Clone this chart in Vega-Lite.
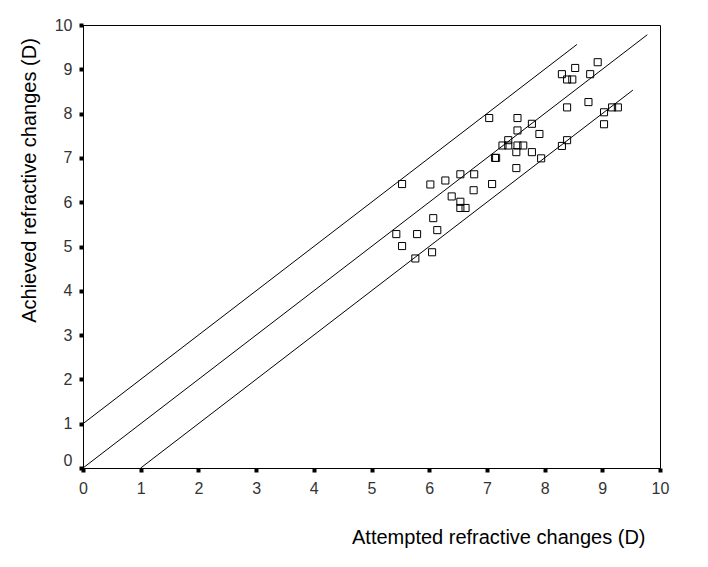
{
  "$schema": "https://vega.github.io/schema/vega-lite/v6.json",
  "autosize": {"type": "none"},
  "width": 577,
  "height": 443,
  "padding": {"left": 83, "top": 25, "right": 48, "bottom": 99},
  "background": "white",
  "config": {
    "view": {"stroke": "black", "strokeWidth": 1},
    "font": "Liberation Sans",
    "axis": {
      "grid": false,
      "domainColor": "black",
      "domainWidth": 1,
      "tickColor": "black",
      "tickSize": 4,
      "tickWidth": 4,
      "labelFlush": false,
      "labelColor": "#333",
      "labelFont": "Liberation Sans",
      "labelFontSize": 16,
      "titleFont": "Liberation Sans",
      "titleFontWeight": "normal",
      "titleColor": "black"
    }
  },
  "datasets": {
    "points": [
      {"attempted": 5.53, "achieved": 6.41},
      {"attempted": 6.02, "achieved": 6.40},
      {"attempted": 6.28, "achieved": 6.49},
      {"attempted": 6.54, "achieved": 6.63},
      {"attempted": 6.78, "achieved": 6.63},
      {"attempted": 6.77, "achieved": 6.27},
      {"attempted": 6.39, "achieved": 6.13},
      {"attempted": 6.54, "achieved": 6.01},
      {"attempted": 6.54, "achieved": 5.87},
      {"attempted": 6.63, "achieved": 5.87},
      {"attempted": 6.07, "achieved": 5.64},
      {"attempted": 6.14, "achieved": 5.37},
      {"attempted": 5.43, "achieved": 5.28},
      {"attempted": 5.79, "achieved": 5.28},
      {"attempted": 5.53, "achieved": 5.01},
      {"attempted": 6.05, "achieved": 4.87},
      {"attempted": 5.76, "achieved": 4.73},
      {"attempted": 7.04, "achieved": 7.90},
      {"attempted": 7.53, "achieved": 7.90},
      {"attempted": 7.53, "achieved": 7.62},
      {"attempted": 7.78, "achieved": 7.77},
      {"attempted": 7.91, "achieved": 7.54},
      {"attempted": 7.37, "achieved": 7.40},
      {"attempted": 7.27, "achieved": 7.28},
      {"attempted": 7.37, "achieved": 7.28},
      {"attempted": 7.53, "achieved": 7.28},
      {"attempted": 7.63, "achieved": 7.28},
      {"attempted": 7.51, "achieved": 7.13},
      {"attempted": 7.78, "achieved": 7.13},
      {"attempted": 7.14, "achieved": 7.00},
      {"attempted": 7.16, "achieved": 7.00},
      {"attempted": 7.94, "achieved": 6.99},
      {"attempted": 7.51, "achieved": 6.77},
      {"attempted": 7.09, "achieved": 6.41},
      {"attempted": 8.92, "achieved": 9.16},
      {"attempted": 8.53, "achieved": 9.03},
      {"attempted": 8.30, "achieved": 8.89},
      {"attempted": 8.39, "achieved": 8.77},
      {"attempted": 8.48, "achieved": 8.77},
      {"attempted": 8.79, "achieved": 8.89},
      {"attempted": 8.39, "achieved": 8.14},
      {"attempted": 8.76, "achieved": 8.26},
      {"attempted": 9.03, "achieved": 8.03},
      {"attempted": 9.17, "achieved": 8.14},
      {"attempted": 9.27, "achieved": 8.14},
      {"attempted": 9.03, "achieved": 7.76},
      {"attempted": 8.30, "achieved": 7.27},
      {"attempted": 8.39, "achieved": 7.40}
    ],
    "lines": [
      {"line": "plus1", "attempted": 0, "achieved": 1},
      {"line": "plus1", "attempted": 8.56, "achieved": 9.56},
      {"line": "identity", "attempted": 0, "achieved": 0},
      {"line": "identity", "attempted": 9.78, "achieved": 9.78},
      {"line": "minus1", "attempted": 1, "achieved": 0},
      {"line": "minus1", "attempted": 9.53, "achieved": 8.53}
    ]
  },
  "layer": [
    {
      "data": {"name": "lines"},
      "mark": {"type": "line", "color": "black", "strokeWidth": 1},
      "encoding": {
        "x": {"field": "attempted", "type": "quantitative"},
        "y": {"field": "achieved", "type": "quantitative"},
        "detail": {"field": "line", "type": "nominal"}
      }
    },
    {
      "data": {"name": "points"},
      "mark": {"type": "point", "shape": "square", "filled": false, "color": "black", "strokeWidth": 1, "size": 50, "opacity": 1},
      "encoding": {
        "x": {
          "field": "attempted",
          "type": "quantitative",
          "scale": {"domain": [0, 10], "nice": false, "zero": false},
          "axis": {
            "values": [0, 1, 2, 3, 4, 5, 6, 7, 8, 9, 10],
            "format": "d",
            "labelPadding": 8,
            "title": "Attempted refractive changes (D)",
            "titleFontSize": 20,
            "titleX": 562,
            "titleY": 69,
            "titleAlign": "right",
            "titleBaseline": "middle"
          }
        },
        "y": {
          "field": "achieved",
          "type": "quantitative",
          "scale": {"domain": [0, 10], "nice": false, "zero": false},
          "axis": {
            "values": [0, 1, 2, 3, 4, 5, 6, 7, 8, 9, 10],
            "format": "d",
            "labelPadding": 7,
            "labelOffset": {"condition": {"test": "datum.value == 0", "value": -8}, "value": 0},
            "title": "Achieved refractive changes (D)",
            "titleFontSize": 20,
            "titleX": -54,
            "titleY": 155,
            "titleAngle": -90,
            "titleAlign": "center",
            "titleBaseline": "middle"
          }
        }
      }
    }
  ]
}
